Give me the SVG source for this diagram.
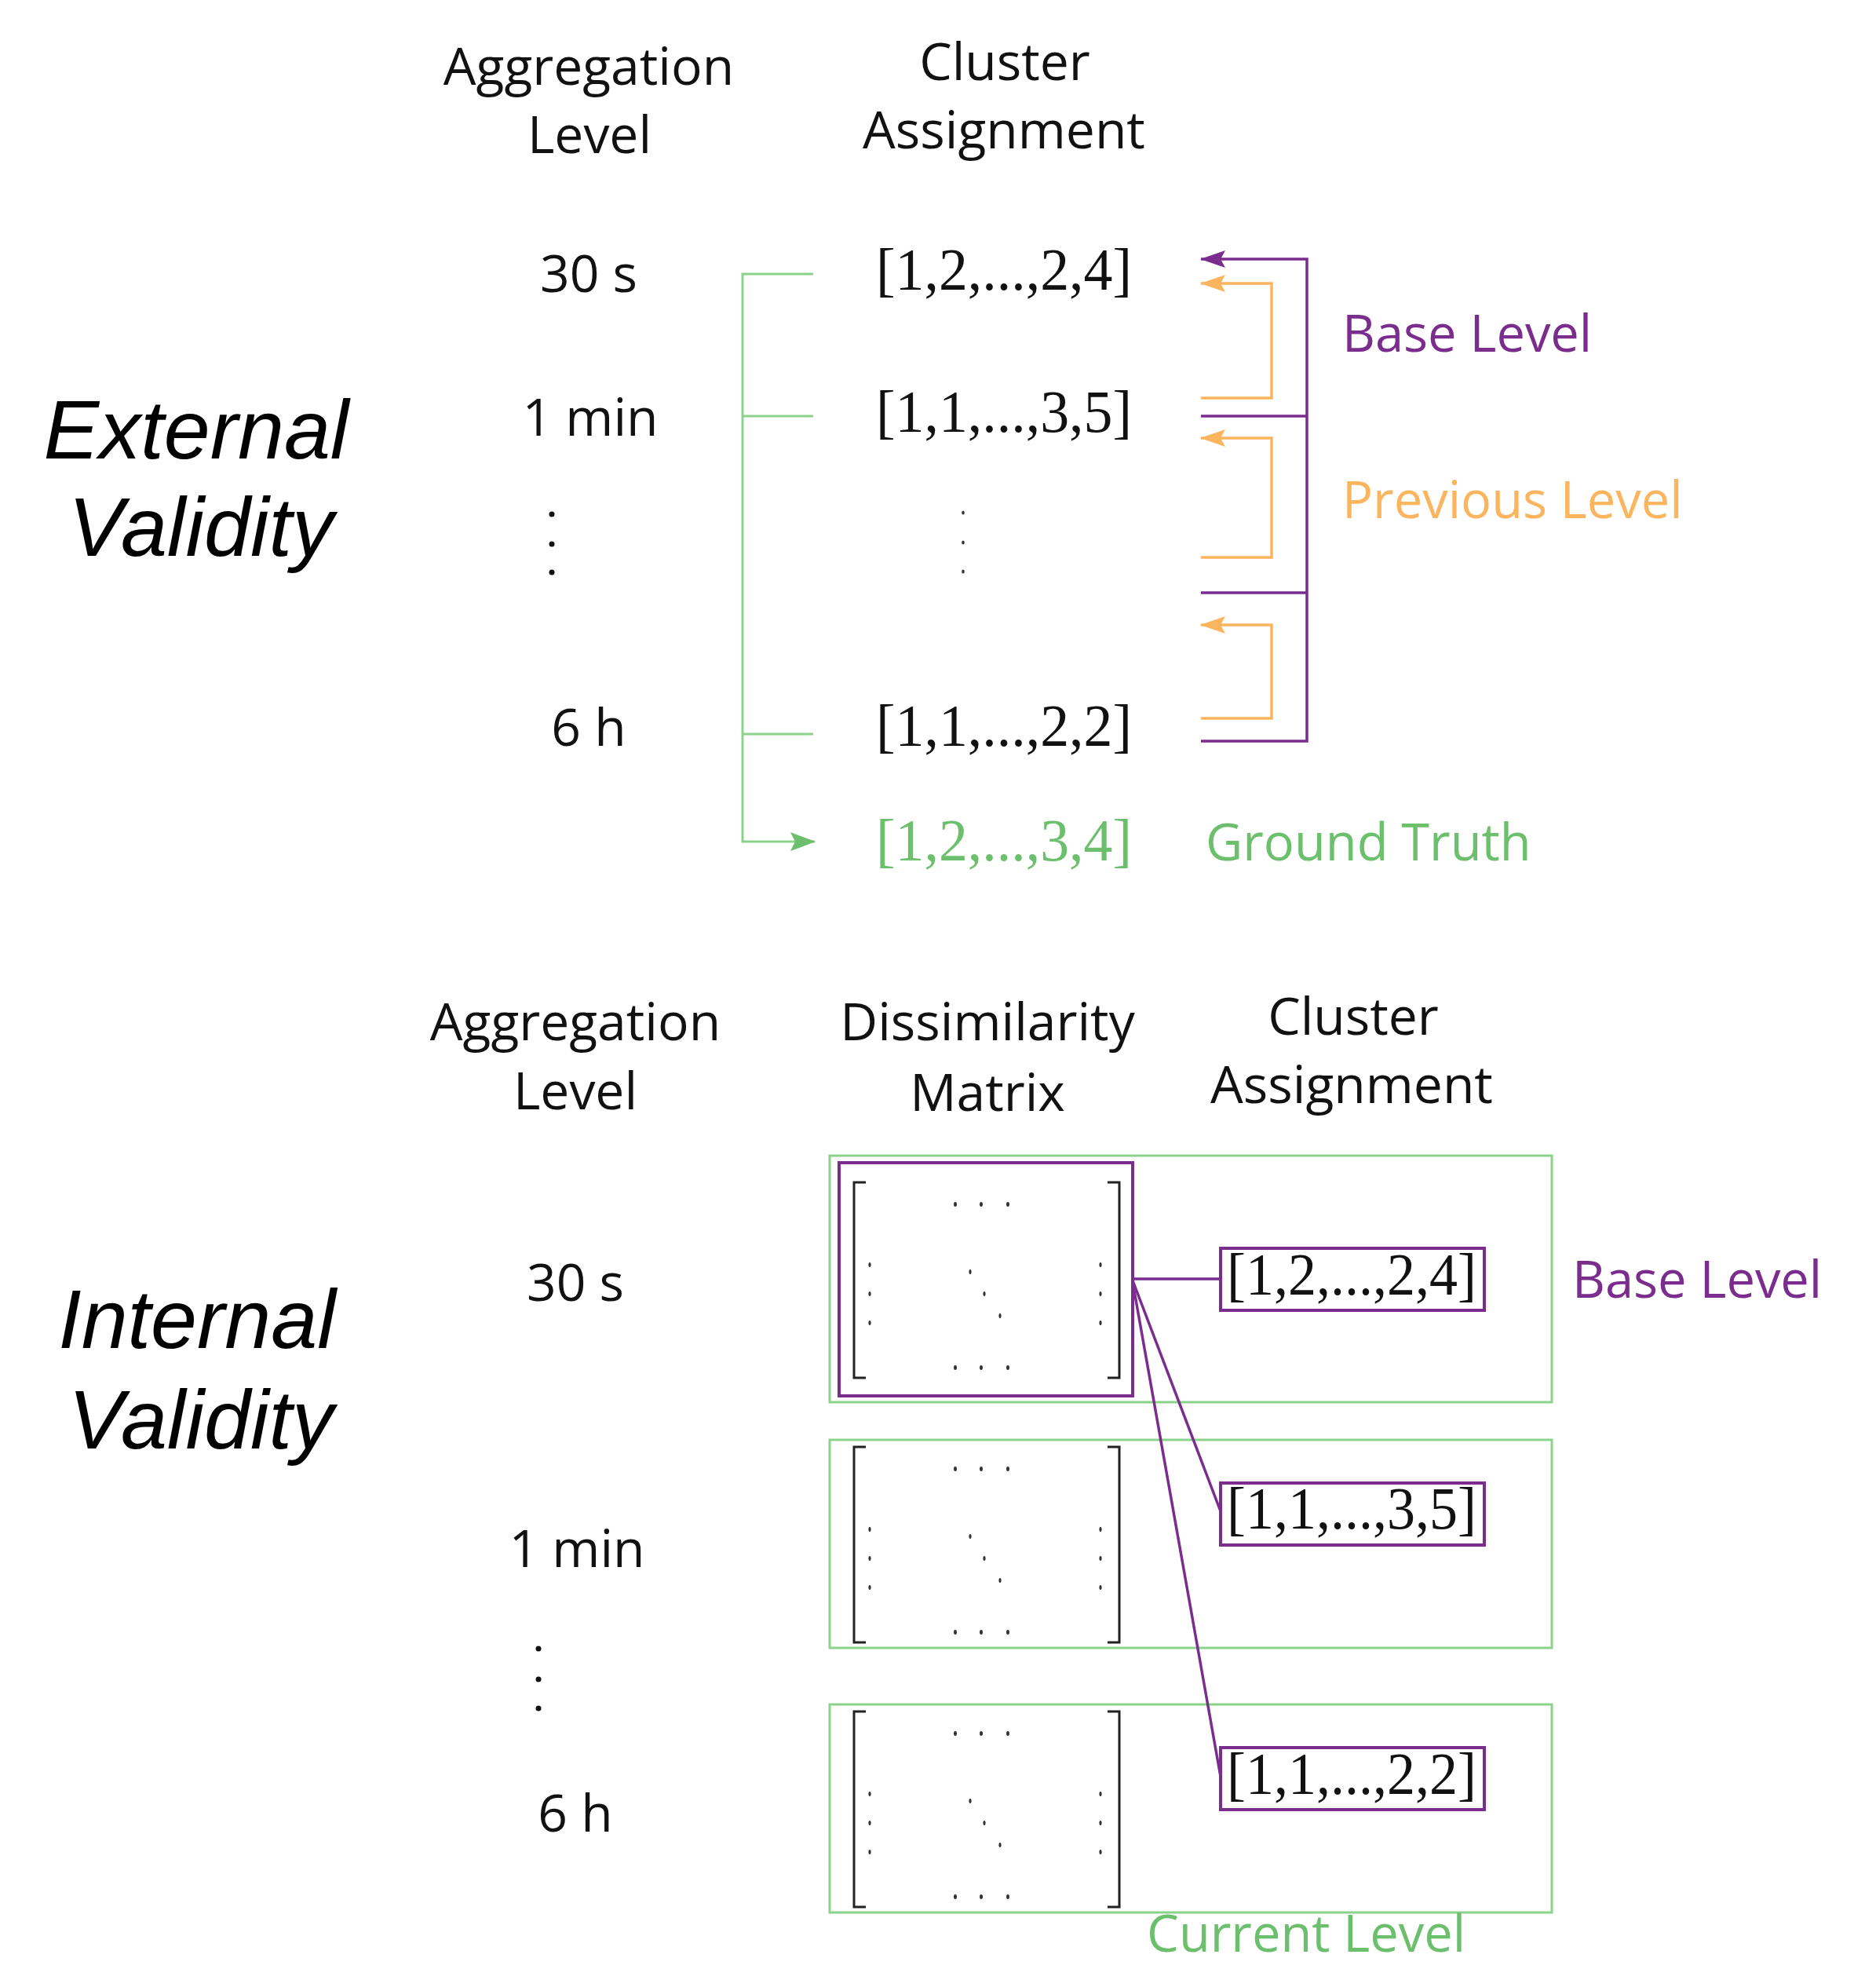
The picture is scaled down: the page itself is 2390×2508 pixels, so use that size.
<svg xmlns="http://www.w3.org/2000/svg" xmlns:xlink="http://www.w3.org/1999/xlink" width="2390" height="2508" viewBox="0 0 2390 2508">
<style>
.hd{font-family:"Open Sans","Liberation Sans",sans-serif;font-size:66px;fill:#111;text-anchor:middle}
.lv{font-family:"Open Sans","Liberation Sans",sans-serif;font-size:66px;fill:#111;text-anchor:middle}
.ttl{font-family:"Liberation Sans",Arial,sans-serif;font-style:italic;font-size:106px;fill:#000;text-anchor:middle}
.arr{font-family:"Liberation Serif","Times New Roman",serif;font-size:76px;fill:#111;text-anchor:middle}
.lbl{font-family:"Open Sans","Liberation Sans",sans-serif;font-size:65px}
.pur{fill:#7b2d8e}
.org{fill:#fbb55f}
.grn{fill:#6cbf6c}
.gl{stroke:#8bd28b;stroke-width:3;fill:none}
.pl{stroke:#7b2d8e;stroke-width:3.5;fill:none}
.ol{stroke:#fbb55f;stroke-width:3.5;fill:none}
.gbox{stroke:#8bd28b;stroke-width:3;fill:none}
.pbox{stroke:#7b2d8e;stroke-width:4;fill:none}
.br{stroke:#222;stroke-width:3;fill:none}
.vd{fill:#111}
.md{fill:#333}
</style>
<defs>
<marker id="ah-p" markerUnits="userSpaceOnUse" markerWidth="32" markerHeight="22" viewBox="0 0 32 22" refX="31" refY="11" orient="auto"><path d="M0,0 L32,11 L0,22 L6,11 z" fill="#7b2d8e"/></marker>
<marker id="ah-o" markerUnits="userSpaceOnUse" markerWidth="32" markerHeight="22" viewBox="0 0 32 22" refX="31" refY="11" orient="auto"><path d="M0,0 L32,11 L0,22 L6,11 z" fill="#fbb55f"/></marker>
<marker id="ah-g" markerUnits="userSpaceOnUse" markerWidth="32" markerHeight="24" viewBox="0 0 32 24" refX="31" refY="12" orient="auto"><path d="M0,0 L32,12 L0,24 L6,12 z" fill="#6cbf6c"/></marker>
<g id="mat">
<path class="br" d="M15,0 H0 V249 H15"/>
<path class="br" d="M323,0 H338 V249 H323"/>
<g class="md">
<ellipse cx="129" cy="28" rx="2" ry="3"/><ellipse cx="162" cy="28" rx="2" ry="3"/><ellipse cx="196" cy="28" rx="2" ry="3"/>
<ellipse cx="129" cy="236" rx="2" ry="3"/><ellipse cx="162" cy="236" rx="2" ry="3"/><ellipse cx="196" cy="236" rx="2" ry="3"/>
<ellipse cx="20" cy="105" rx="1.6" ry="3"/><ellipse cx="20" cy="142" rx="1.6" ry="3"/><ellipse cx="20" cy="179" rx="1.6" ry="3"/>
<ellipse cx="314" cy="105" rx="1.6" ry="3"/><ellipse cx="314" cy="142" rx="1.6" ry="3"/><ellipse cx="314" cy="179" rx="1.6" ry="3"/>
<ellipse cx="148" cy="114" rx="1.6" ry="3"/><ellipse cx="166" cy="142" rx="1.6" ry="3"/><ellipse cx="186" cy="170" rx="1.6" ry="3"/>
</g>
</g>
</defs>
<rect width="2390" height="2508" fill="#fff"/>

<!-- External validity -->
<g id="ext-title"><text class="ttl" x="250" y="584">External</text><text class="ttl" x="256" y="708">Validity</text></g>
<g id="ext-head-agg"><text class="hd" x="750" y="108">Aggregation</text><text class="hd" x="751" y="195">Level</text></g>
<g id="ext-head-ca"><text class="hd" x="1280" y="102">Cluster</text><text class="hd" x="1279" y="189">Assignment</text></g>
<g id="ext-lvl-30s"><text class="lv" x="750" y="372">30 s</text></g>
<g id="ext-lvl-1min"><text class="lv" x="752" y="555">1 min</text></g>
<g id="ext-lvl-dots" class="vd"><circle cx="703" cy="655" r="3.5"/><circle cx="703" cy="693" r="3.5"/><circle cx="703" cy="729" r="3.5"/></g>
<g id="ext-lvl-6h"><text class="lv" x="750" y="950">6 h</text></g>
<g id="ext-ca-30s"><text class="arr" x="1279" y="369" textLength="326" lengthAdjust="spacingAndGlyphs">[1,2,...,2,4]</text></g>
<g id="ext-ca-1min"><text class="arr" x="1279" y="550" textLength="326" lengthAdjust="spacingAndGlyphs">[1,1,...,3,5]</text></g>
<g id="ext-ca-dots" class="md"><ellipse cx="1227" cy="653" rx="1.8" ry="2.5"/><ellipse cx="1227" cy="691" rx="1.8" ry="2.5"/><ellipse cx="1227" cy="728" rx="1.8" ry="2.5"/></g>
<g id="ext-ca-6h"><text class="arr" x="1279" y="950" textLength="326" lengthAdjust="spacingAndGlyphs">[1,1,...,2,2]</text></g>
<g id="ext-ground-truth"><text class="arr grn" x="1279" y="1096" textLength="326" lengthAdjust="spacingAndGlyphs">[1,2,...,3,4]</text></g>
<g id="ext-lbl-base"><text class="lbl pur" x="1710" y="448">Base Level</text></g>
<g id="ext-lbl-prev"><text class="lbl org" x="1710" y="660">Previous Level</text></g>
<g id="ext-lbl-gt"><text class="lbl grn" x="1536" y="1096">Ground Truth</text></g>

<!-- Internal validity -->
<g id="int-title"><text class="ttl" x="251" y="1717">Internal</text><text class="ttl" x="256" y="1845">Validity</text></g>
<g id="int-head-agg"><text class="hd" x="733" y="1325">Aggregation</text><text class="hd" x="733" y="1413">Level</text></g>
<g id="int-head-dm"><text class="hd" x="1258" y="1325">Dissimilarity</text><text class="hd" x="1258" y="1415">Matrix</text></g>
<g id="int-head-ca"><text class="hd" x="1724" y="1318">Cluster</text><text class="hd" x="1722" y="1405">Assignment</text></g>
<g id="int-lvl-30s"><text class="lv" x="733" y="1657">30 s</text></g>
<g id="int-lvl-1min"><text class="lv" x="735" y="1996">1 min</text></g>
<g id="int-lvl-dots" class="vd"><circle cx="686" cy="2100" r="3.5"/><circle cx="686" cy="2139" r="3.5"/><circle cx="686" cy="2176" r="3.5"/></g>
<g id="int-lvl-6h"><text class="lv" x="733" y="2333">6 h</text></g>

<g id="int-row-30s">
<rect class="gbox" x="1057" y="1472" width="920" height="314"/>
<rect class="pbox" x="1069" y="1481" width="374" height="297"/>
<use xlink:href="#mat" href="#mat" x="1088" y="1506"/>
<rect class="pbox" x="1555" y="1590" width="336" height="79"/>
<text class="arr" x="1722" y="1649" textLength="318" lengthAdjust="spacingAndGlyphs">[1,2,...,2,4]</text>
</g>
<g id="int-row-1min">
<rect class="gbox" x="1057" y="1834" width="920" height="265"/>
<use xlink:href="#mat" href="#mat" x="1088" y="1843"/>
<rect class="pbox" x="1555" y="1889" width="336" height="79"/>
<text class="arr" x="1722" y="1947" textLength="318" lengthAdjust="spacingAndGlyphs">[1,1,...,3,5]</text>
</g>
<g id="int-row-6h">
<rect class="gbox" x="1057" y="2171" width="920" height="265"/>
<use xlink:href="#mat" href="#mat" x="1088" y="2180"/>
<rect class="pbox" x="1555" y="2226" width="336" height="79"/>
<text class="arr" x="1722" y="2285" textLength="318" lengthAdjust="spacingAndGlyphs">[1,1,...,2,2]</text>
</g>
<g id="int-lbl-base"><text class="lbl pur" x="2003" y="1653">Base Level</text></g>
<g id="int-lbl-cur"><text class="lbl grn" x="1461" y="2486">Current Level</text></g>

<!-- Connectors -->
<g id="connectors">
<path class="gl" d="M1036,349 H946 V1072 H1038" marker-end="url(#ah-g)"/>
<path class="gl" d="M946,530 H1036"/>
<path class="gl" d="M946,935 H1036"/>
<path class="pl" d="M1530,944 H1665 V330 H1530" marker-end="url(#ah-p)"/>
<path class="pl" d="M1530,530 H1665"/>
<path class="pl" d="M1530,755 H1665"/>
<path class="ol" d="M1530,507 H1620 V361 H1530" marker-end="url(#ah-o)"/>
<path class="ol" d="M1530,710 H1620 V558 H1530" marker-end="url(#ah-o)"/>
<path class="ol" d="M1530,915 H1620 V796 H1530" marker-end="url(#ah-o)"/>
<path class="pl" d="M1443,1629 H1555"/>
<path class="pl" d="M1443,1631 L1555,1925"/>
<path class="pl" d="M1443,1633 L1555,2263"/>
</g>
</svg>
